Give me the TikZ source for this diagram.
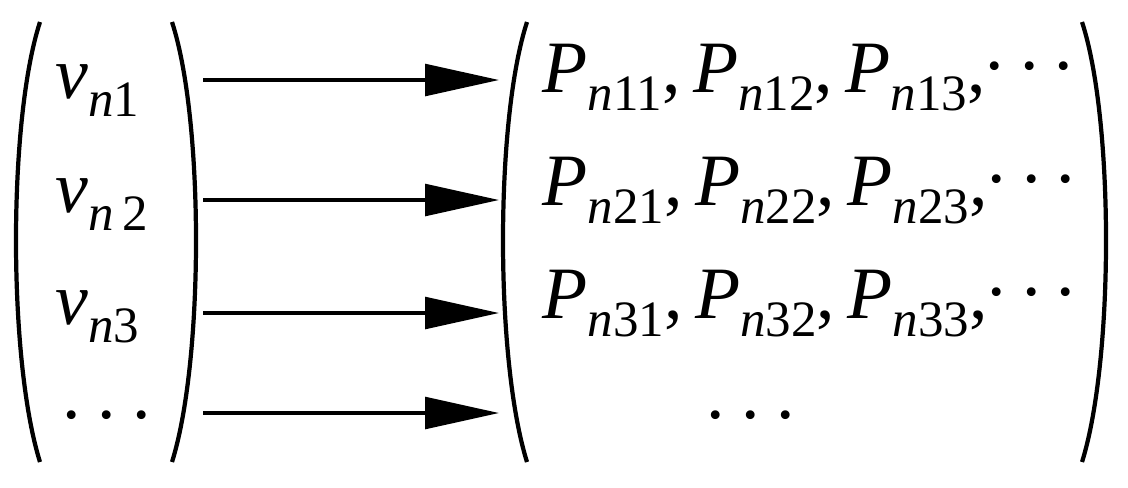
\documentclass[tikz,border=0pt]{standalone}
\usepackage{fontspec}
\setmainfont{Liberation Serif}[ItalicFont={Liberation Serif Italic}]
\usetikzlibrary{arrows.meta}
\newcommand{\sbs}[1]{\raisebox{-0.25em}{\fontsize{14.5}{17}\selectfont #1}}
\newcommand{\vv}[1]{\textit{v}\sbs{\textit{n}#1}}
\newcommand{\pp}[1]{\textit{P}\sbs{\textit{n}#1}}
\newcommand{\dts}[1]{\raisebox{#1}{.\hspace{0.22em}.\hspace{0.22em}.}}
\begin{document}
\begin{tikzpicture}[x=0.01cm,y=-0.01cm,
  txt/.style={font=\fontsize{21}{25}\selectfont, anchor=base west, inner sep=0pt},
  paren/.style={line width=1.2pt},
  arr/.style={line width=1pt,-{Triangle[length=21pt,width=9pt]}}]
\useasboundingbox (0,0) rectangle (1128,487);
% parens
\draw[paren] (40,22) .. controls (8,120) and (8,360) .. (40,462);
\draw[paren] (172,22) .. controls (204,120) and (204,360) .. (172,462);
\draw[paren] (527,22) .. controls (495,120) and (495,360) .. (527,462);
\draw[paren] (1082,22) .. controls (1114,120) and (1114,360) .. (1082,462);
% left entries
\node[txt] (v1) at (55,98) {\vv{1}};
\node[txt] (v2) at (55,212) {\vv{\,2}};
\node[txt] (v3) at (55,324) {\vv{3}};
\node[txt] (v4) at (62,418) {\dts{0pt}};
% right entries
\node[txt] (r1) at (542,92) {\pp{11},\,\pp{12},\,\pp{13},\dts{0.3em}};
\node[txt] (r2) at (542,205) {\pp{21},\,\pp{22},\,\pp{23},\dts{0.3em}};
\node[txt] (r3) at (542,318) {\pp{31},\,\pp{32},\,\pp{33},\dts{0.3em}};
\node[txt] (r4) at (706,418) {\dts{0pt}};
% arrows
\coordinate (a1) at (203,80); \coordinate (b1) at (499,80);
\coordinate (a2) at (203,200); \coordinate (b2) at (499,200);
\coordinate (a3) at (203,313); \coordinate (b3) at (499,313);
\coordinate (a4) at (203,413); \coordinate (b4) at (499,413);
\draw[arr] (a1) -- (b1);
\draw[arr] (a2) -- (b2);
\draw[arr] (a3) -- (b3);
\draw[arr] (a4) -- (b4);
\end{tikzpicture}
\end{document}
